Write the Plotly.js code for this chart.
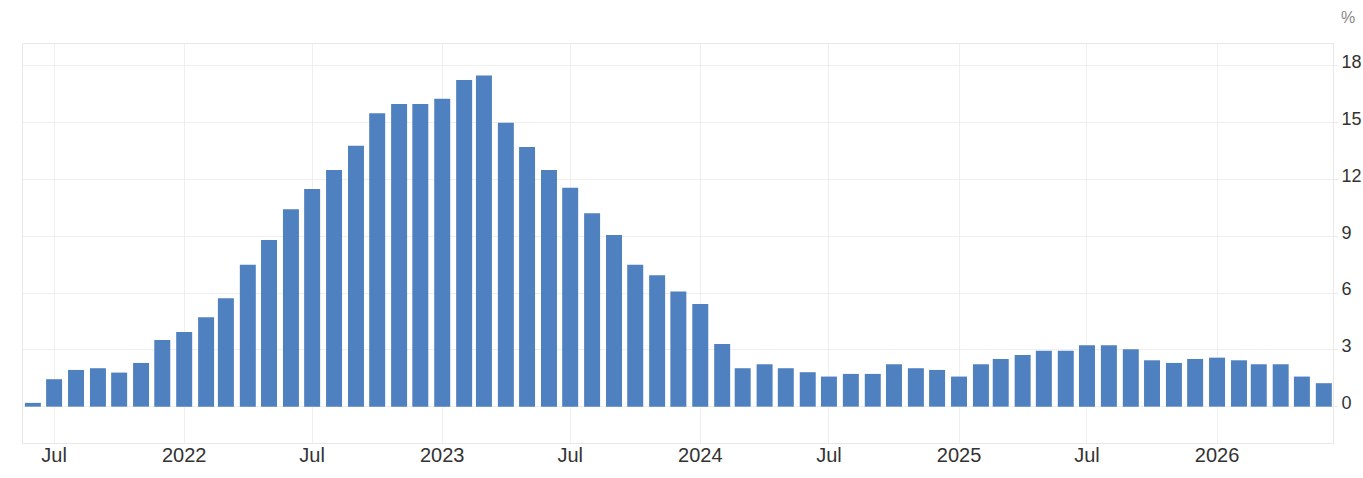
<!DOCTYPE html>
<html>
<head>
<meta charset="utf-8">
<script src="https://cdn.plot.ly/plotly-3.0.1.min.js"></script>
<style>html,body{margin:0;padding:0;background:#fff;}#chart{width:1363px;height:478px;}</style>
</head>
<body>
<div id="chart"></div>
<script>
const months = [
  "2021-06-01","2021-07-01","2021-08-01","2021-09-01","2021-10-01","2021-11-01","2021-12-01",
  "2022-01-01","2022-02-01","2022-03-01","2022-04-01","2022-05-01","2022-06-01","2022-07-01","2022-08-01","2022-09-01","2022-10-01","2022-11-01","2022-12-01",
  "2023-01-01","2023-02-01","2023-03-01","2023-04-01","2023-05-01","2023-06-01","2023-07-01","2023-08-01","2023-09-01","2023-10-01","2023-11-01","2023-12-01",
  "2024-01-01","2024-02-01","2024-03-01","2024-04-01","2024-05-01","2024-06-01","2024-07-01","2024-08-01","2024-09-01","2024-10-01","2024-11-01","2024-12-01",
  "2025-01-01","2025-02-01","2025-03-01","2025-04-01","2025-05-01","2025-06-01","2025-07-01","2025-08-01","2025-09-01","2025-10-01","2025-11-01","2025-12-01",
  "2026-01-01","2026-02-01","2026-03-01","2026-04-01","2026-05-01","2026-06-01"
];
const values = [
  0.2, 1.45, 1.94, 2.03, 1.8, 2.31, 3.52,
  3.95, 4.72, 5.73, 7.5, 8.81, 10.43, 11.5, 12.5, 13.79, 15.5, 15.99, 15.99,
  16.27, 17.26, 17.49, 15.0, 13.72, 12.5, 11.57, 10.22, 9.07, 7.5, 6.94, 6.08,
  5.43, 3.31, 2.03, 2.24, 2.03, 1.82, 1.59, 1.73, 1.73, 2.24, 2.03, 1.94,
  1.59, 2.24, 2.52, 2.73, 2.96, 2.96, 3.24, 3.24, 3.03, 2.45, 2.31, 2.52,
  2.59, 2.45, 2.24, 2.24, 1.59, 1.24
];
const xTickVals = ["2021-07-01","2022-01-01","2022-07-01","2023-01-01","2023-07-01","2024-01-01","2024-07-01","2025-01-01","2025-07-01","2026-01-01"];
const xTickText = ["Jul","2022","Jul","2023","Jul","2024","Jul","2025","Jul","2026"];
const yTickVals = [0, 3, 6, 9, 12, 15, 18];
const unitLabel = "%";

const DAY = 86400000;
const trace = {
  type: "bar",
  x: months,
  y: values,
  width: months.map(() => 22.6 * DAY),
  marker: {color: "#4f80bf", line: {width: 0}},
  hoverinfo: "x+y"
};

const layout = {
  width: 1363,
  height: 478,
  margin: {l: 23, r: 30, t: 44, b: 35},
  paper_bgcolor: "#ffffff",
  plot_bgcolor: "#ffffff",
  showlegend: false,
  font: {family: "Liberation Sans, Arial, sans-serif", color: "#333333"},
  xaxis: {
    type: "date",
    range: ["2021-05-18", "2026-06-14"],
    tickmode: "array",
    tickvals: xTickVals,
    ticktext: xTickText,
    tickfont: {size: 20, color: "#333333"},
    ticklabelstandoff: -6,
    showgrid: true,
    gridcolor: "#efefef",
    gridwidth: 1,
    showline: true,
    linecolor: "#e8e8e8",
    mirror: true,
    ticks: "",
    zeroline: false,
    fixedrange: true
  },
  yaxis: {
    side: "right",
    range: [-1.92, 19.16],
    tickmode: "array",
    tickvals: yTickVals,
    tickfont: {size: 18, color: "#333333"},
    ticklabelshift: -4,
    showgrid: true,
    gridcolor: "#efefef",
    gridwidth: 1,
    showline: true,
    linecolor: "#e8e8e8",
    mirror: true,
    ticks: "outside",
    ticklen: 4,
    tickcolor: "#e8e8e8",
    zeroline: false,
    fixedrange: true
  },
  annotations: [{
    text: unitLabel,
    xref: "paper", yref: "paper",
    x: 1.0, y: 1.0,
    xanchor: "left", yanchor: "bottom",
    xshift: 6, yshift: 16,
    showarrow: false,
    font: {size: 16, color: "#888888"}
  }]
};

Plotly.newPlot("chart", [trace], layout, {displayModeBar: false, staticPlot: true});
</script>
</body>
</html>
